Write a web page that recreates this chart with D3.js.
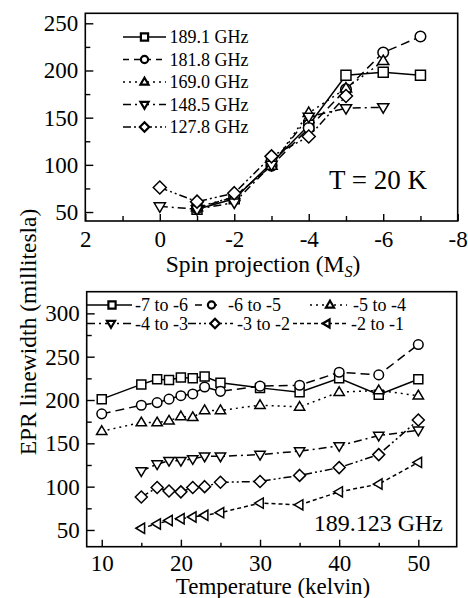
<!DOCTYPE html>
<html><head><meta charset="utf-8">
<script src="https://cdn.jsdelivr.net/npm/d3@7"></script>
<style>
html,body{margin:0;padding:0;background:#fff;}
svg{display:block;}
</style></head>
<body>
<svg id="chart" width="468" height="598" font-family="Liberation Serif"></svg>
<script>
// ---------- Top panel data (T = 20 K) ----------
const freqLabels = ["189.1 GHz", "181.8 GHz", "169.0 GHz", "148.5 GHz", "127.8 GHz"];
const ms189 = [-1, -2, -3, -4, -5, -6, -7];
const w189  = [53, 64, 102, 142, 195, 198, 195];
const ms181 = [-1, -2, -3, -4, -5, -6, -7];
const w181  = [54, 66, 99, 139, 180, 219, 236];
const ms169 = [-1, -2, -3, -4, -5, -6];
const w169  = [55, 66, 99, 155, 181, 210];
const ms148 = [0, -1, -2, -3, -4, -5, -6];
const w148  = [56, 53, 60, 100, 151, 160, 161];
const ms127 = [0, -1, -2, -3, -4, -5];
const w127  = [76, 61, 70, 109, 130, 173];
const topXTicks = [2, 0, -2, -4, -6, -8];
const topYTicks = [50, 100, 150, 200, 250];

// ---------- Bottom panel data (189.123 GHz) ----------
const transLabels = ["-7 to -6", "-6 to -5", "-5 to -4", "-4 to -3", "-3 to -2", "-2 to -1"];
const tempsA = [10, 15, 17, 18.5, 20, 21.5, 23, 25, 30, 35, 40, 45, 50];
const tempsB = [15, 17, 18.5, 20, 21.5, 23, 25, 30, 35, 40, 45, 50];
const w76 = [201, 218, 224, 223, 226, 225, 227, 220, 214, 209, 225, 206, 224];
const w65 = [184, 194, 197, 201, 205, 207, 215, 210, 216, 217, 232, 229, 264];
const w54 = [164, 174, 174, 176, 181, 180, 188, 188, 194, 192, 209, 211, 205];
const w43 = [118, 126, 130, 130, 132, 135, 135, 137, 141, 147, 159, 165];
const w32 = [88, 99, 95, 94, 99, 100, 105, 106, 113, 122, 137, 177];
const w21 = [52, 57, 61, 63, 65, 67, 70, 81, 79, 94, 103, 128];
const botXTicks = [10, 20, 30, 40, 50];
const botYTicks = [50, 100, 150, 200, 250, 300];

// ---------- helpers ----------
const FF = "Liberation Serif";
const svg = d3.select("#chart");
const FONT_TICK = 23;

function shapePath(type, r) {
  switch (type) {
    case "square": return `M${-r},${-r}h${2*r}v${2*r}h${-2*r}Z`;
    case "circle": return `M${r},0A${r},${r} 0 1,1 ${-r},0A${r},${r} 0 1,1 ${r},0Z`;
    case "up": { const a = r*1.18; return `M0,${-a}L${a*0.95},${a*0.6}L${-a*0.95},${a*0.6}Z`; }
    case "down": { const a = r*1.18; return `M0,${a}L${a*0.95},${-a*0.6}L${-a*0.95},${-a*0.6}Z`; }
    case "diamond": { const a = r*1.3; return `M0,${-a}L${a},0L0,${a}L${-a},0Z`; }
    case "left": { const a = r*1.18; return `M${-a},0L${a*0.6},${-a*0.95}L${a*0.6},${a*0.95}Z`; }
  }
}

function drawFrame(g, w, h) {
  g.append("rect").attr("x", 0).attr("y", 0).attr("width", w).attr("height", h)
    .attr("fill", "none").attr("stroke", "#000").attr("stroke-width", 1.6);
}

function styleAxis(a) {
  a.attr("font-family", FF).attr("font-size", FONT_TICK);
  a.select(".domain").remove();
  a.selectAll("line").attr("stroke", "#000").attr("stroke-width", 1.4);
  a.selectAll("text").attr("font-family", FF).attr("font-size", FONT_TICK).attr("fill", "#000");
}

function drawSeries(g, xs, ys, x, y, dash, shape, r) {
  const pts = xs.map((d, i) => [x(d), y(ys[i])]);
  g.append("path").attr("d", d3.line()(pts)).attr("fill", "none")
    .attr("stroke", "#000").attr("stroke-width", 1.5).attr("stroke-dasharray", dash);
  g.selectAll(null).data(pts).enter().append("path")
    .attr("transform", d => `translate(${d[0]},${d[1]})`)
    .attr("d", shapePath(shape, r)).attr("fill", "#fff")
    .attr("stroke", "#000").attr("stroke-width", 1.5);
}

function legendItem(g, x1, x2, xm, y, dash, shape, label, xt) {
  g.append("line").attr("x1", x1).attr("x2", x2).attr("y1", y).attr("y2", y)
    .attr("stroke", "#000").attr("stroke-width", 1.6).attr("stroke-dasharray", dash);
  g.append("path").attr("transform", `translate(${xm},${y})`)
    .attr("d", shapePath(shape, 3.6)).attr("fill", "#fff")
    .attr("stroke", "#000").attr("stroke-width", 2.2);
  g.append("text").attr("x", xt).attr("y", y + 6).attr("font-family", FF)
    .attr("font-size", 18).text(label);
}

const DASH = {
  solid: null,
  dash: "9,5",
  dot: "2,4",
  dashdot: "8,4,2,4",
  dashdotdot: "8,3,2,3,2,3",
  shortdash: "4,3"
};

// ---------- Top panel ----------
const T = {left: 85.3, top: 13.3, right: 457.7, bottom: 221};
const gT = svg.append("g").attr("transform", `translate(${T.left},${T.top})`);
const wT = T.right - T.left, hT = T.bottom - T.top;
const xT = d3.scaleLinear().domain([2, -8]).range([0, wT]);
const yT = d3.scaleLinear().domain([40.5, 260.6]).range([hT, 0]);

gT.append("g").attr("transform", `translate(0,${hT})`)
  .call(d3.axisBottom(xT).tickValues([1, -1, -3, -5, -7]).tickSize(-5).tickFormat(""))
  .call(styleAxis);
gT.append("g").call(d3.axisLeft(yT).tickValues([75, 125, 175, 225]).tickSize(-5).tickFormat(""))
  .call(styleAxis);
gT.append("g").attr("transform", `translate(0,${hT})`)
  .call(d3.axisBottom(xT).tickValues(topXTicks).tickSize(-7).tickPadding(9.5).tickFormat(d => String(d)))
  .call(styleAxis);
gT.append("g").call(d3.axisLeft(yT).tickValues(topYTicks).tickSize(-8).tickPadding(7))
  .call(styleAxis);

drawSeries(gT, ms189, w189, xT, yT, DASH.solid, "square", 5);
drawSeries(gT, ms181, w181, xT, yT, DASH.dash, "circle", 5.3);
drawSeries(gT, ms169, w169, xT, yT, DASH.dot, "up", 5);
drawSeries(gT, ms148, w148, xT, yT, DASH.dashdot, "down", 5);
drawSeries(gT, ms127, w127, xT, yT, DASH.dashdotdot, "diamond", 5);
drawFrame(gT, wT, hT);

// top legend
const lgT = svg.append("g");
const topLegStyles = [[DASH.solid, "square"], ["6,5", "circle"], [DASH.dot, "up"], [DASH.dashdot, "down"], [DASH.dashdotdot, "diamond"]];
freqLabels.forEach((lab, i) => {
  const y = 37 + i * 22.5;
  legendItem(lgT, 123, 166, 144.5, y, topLegStyles[i][0], topLegStyles[i][1], lab, 169.5);
});

svg.append("text").attr("x", 427).attr("y", 188.5).attr("text-anchor", "end")
  .attr("font-family", FF).attr("font-size", 27).text("T = 20 K");

const xtT = svg.append("text").attr("x", 263).attr("y", 271.5).attr("text-anchor", "middle")
  .attr("font-family", FF).attr("font-size", 23.5);
xtT.append("tspan").text("Spin projection (M");
xtT.append("tspan").attr("dy", 5).attr("font-size", 16).attr("font-style", "italic").text("S");
xtT.append("tspan").attr("dy", -5).text(")");

// ---------- Bottom panel ----------
const B = {left: 86.7, top: 291.7, right: 456.7, bottom: 546.7};
const gB = svg.append("g").attr("transform", `translate(${B.left},${B.top})`);
const wB = B.right - B.left, hB = B.bottom - B.top;
const xB = d3.scaleLinear().domain([8.1, 54.85]).range([0, wB]);
const yB = d3.scaleLinear().domain([30.7, 325]).range([hB, 0]);

gB.append("g").attr("transform", `translate(0,${hB})`)
  .call(d3.axisBottom(xB).tickValues([15, 25, 35, 45]).tickSize(-4).tickFormat(""))
  .call(styleAxis);
gB.append("g").call(d3.axisLeft(yB).tickValues([75, 125, 175, 225, 275]).tickSize(-5).tickFormat(""))
  .call(styleAxis);
gB.append("g").attr("transform", `translate(0,${hB})`)
  .call(d3.axisBottom(xB).tickValues(botXTicks).tickSize(-7).tickPadding(7.8))
  .call(styleAxis);
gB.append("g").call(d3.axisLeft(yB).tickValues(botYTicks).tickSize(-8).tickPadding(7))
  .call(styleAxis);

drawSeries(gB, tempsA, w76, xB, yB, DASH.solid, "square", 4.5);
drawSeries(gB, tempsA, w65, xB, yB, DASH.dash, "circle", 4.8);
drawSeries(gB, tempsA, w54, xB, yB, DASH.dot, "up", 4.6);
drawSeries(gB, tempsB, w43, xB, yB, DASH.dashdot, "down", 4.6);
drawSeries(gB, tempsB, w32, xB, yB, DASH.dashdotdot, "diamond", 4.6);
drawSeries(gB, tempsB, w21, xB, yB, DASH.shortdash, "left", 4.6);
drawFrame(gB, wB, hB);

// bottom legend
const lgB = svg.append("g");
const botLeg = [
  [87, 132, 112, 305, DASH.solid, "square", 135],
  [195, 224, 211.5, 305, "7,8", "circle", 228],
  [310, 347, 330, 305, DASH.dot, "up", 353],
  [87, 132, 111, 323.5, DASH.dashdot, "down", 135],
  [188, 233, 215, 323.5, DASH.dashdotdot, "diamond", 237],
  [293, 347, 327, 323.5, DASH.shortdash, "left", 351]
];
transLabels.forEach((lab, i) => {
  const s = botLeg[i];
  legendItem(lgB, s[0], s[1], s[2], s[3], s[4], s[5], lab, s[6]);
});

svg.append("text").attr("x", 443).attr("y", 530.7).attr("text-anchor", "end")
  .attr("font-family", FF).attr("font-size", 24).text("189.123 GHz");

svg.append("text").attr("x", 273).attr("y", 593.5).attr("text-anchor", "middle")
  .attr("font-family", FF).attr("font-size", 23).text("Temperature (kelvin)");

// y axis title
svg.append("text").attr("transform", "translate(36,332) rotate(-90)").attr("text-anchor", "middle")
  .attr("font-family", FF).attr("font-size", 23.5).text("EPR linewidth (millitesla)");
</script>
</body></html>
